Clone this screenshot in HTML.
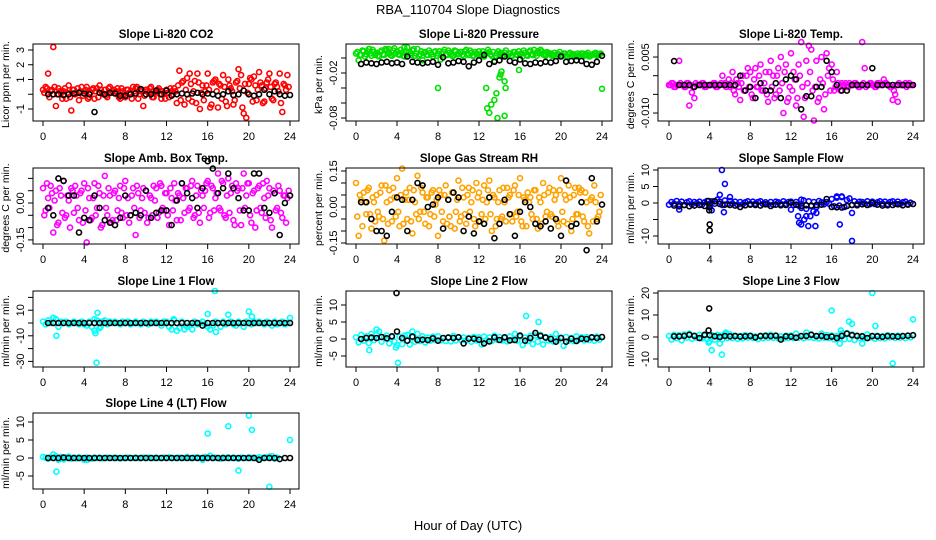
<!DOCTYPE html>
<html><head><meta charset="utf-8">
<style>
html,body{margin:0;padding:0;background:#fff;}
svg{display:block;font-family:"Liberation Sans",sans-serif;}
</style></head>
<body>
<svg id="chart" width="936" height="540" viewBox="0 0 936 540">
<text x="468" y="14" text-anchor="middle" font-size="13">RBA_110704  Slope Diagnostics</text>
<text x="468" y="530" text-anchor="middle" font-size="13">Hour of Day (UTC)</text>
</svg>
<script>
const hC=[0,0.25,0.5,0.75,1,1.25,1.5,1.75,2,2.25,2.5,2.75,3,3.25,3.5,3.75,4,4.25,4.5,4.75,5,5.25,5.5,5.75,6,6.25,6.5,6.75,7,7.25,7.5,7.75,8,8.25,8.5,8.75,9,9.25,9.5,9.75,10,10.25,10.5,10.75,11,11.25,11.5,11.75,12,12.25,12.5,12.75,13,13.25,13.5,13.75,14,14.25,14.5,14.75,15,15.25,15.5,15.75,16,16.25,16.5,16.75,17,17.25,17.5,17.75,18,18.25,18.5,18.75,19,19.25,19.5,19.75,20,20.25,20.5,20.75,21,21.25,21.5,21.75,22,22.25,22.5,22.75,23,23.25,23.5,23.75];
const hB=[0.5,1,1.5,2,2.5,3,3.5,4,4.5,5,5.5,6,6.5,7,7.5,8,8.5,9,9.5,10,10.5,11,11.5,12,12.5,13,13.5,14,14.5,15,15.5,16,16.5,17,17.5,18,18.5,19,19.5,20,20.5,21,21.5,22,22.5,23,23.5,24];
const xTicks=[0,4,8,12,16,20,24];

const p1Color=[0.3,0.5,1.4,0.2,3.2,-0.8,0.4,0.1,0.2,-0.3,0.6,-1.1,0.3,0.1,-0.4,0.5,0.2,0.5,-0.2,0.3,-0.3,0.4,0.6,0.1,0.3,-0.2,0.5,0.2,0.1,0.4,-0.3,0.2,-0.2,0.3,0.1,0.5,0.4,-0.3,0.2,-0.8,0.3,0.1,0.5,-0.2,0.2,0.4,-0.3,0.1,0.3,-0.2,0.2,0.4,-0.6,1.6,0.8,-0.7,1.1,1.4,-0.5,0.9,1.4,-1.0,0.6,0.2,1.4,-0.9,0.8,1.0,-0.9,0.6,1.3,-0.5,1.0,0.4,-0.7,0.8,1.7,1.3,-1.3,-1.6,0.7,1.0,1.2,-0.4,1.5,0.6,-0.5,0.8,1.4,-0.3,0.7,0.5,1.4,-1.2,0.6,1.3];
const p1Color2=[0.1,0.4,-0.2,0.3,0.5,0.0,0.2,-0.3,0.4,0.1,-0.2,0.3,0.0,0.4,0.2,-0.1,0.3,-0.3,0.1,0.4,0.2,-0.2,0.3,0.0,-0.1,0.4,0.1,0.3,0.2,-0.2,0.4,0.0,0.3,0.1,-0.3,0.2,0.5,0.0,0.3,-0.1,0.2,0.4,-0.2,0.1,0.3,0.0,0.2,-0.3,0.1,0.4,0.0,0.2,0.6,-0.4,0.9,0.3,-0.3,0.7,0.2,-0.6,0.8,0.1,-0.4,0.6,0.3,-0.7,0.9,0.2,0.7,-0.3,0.5,-0.8,0.6,0.2,-0.4,0.9,0.4,-0.9,0.7,0.1,1.1,-0.5,0.6,0.3,0.8,-0.6,0.4,1.0,0.5,-0.4,0.8,0.2,-0.6,0.7,0.3,0.5];
const p1Black=[0,0,0,-0.05,0,0.05,0.1,0.05,0,-1.2,0.1,0,0.1,0.05,-0.1,-0.1,0,0.05,0.35,0,0,0.25,0,0.25,-0.1,0,0.05,0,0.05,0.1,0,0.05,0,-0.1,0,0.2,-0.05,0,0.25,0,-0.1,0,0.3,0,0.2,0,-0.1,-0.05];

const p2Color=[0.006,-0.003,0.004,0.009,0.005,0.012,0.003,0.008,0.007,0.002,0.010,0.004,0.011,0.006,0.003,0.013,0.009,0.004,0.007,0.002,0.014,0.006,0.010,0.003,0.012,0.005,-0.003,0.008,0.004,0.007,0.002,0.009,0.006,-0.002,0.008,0.004,0.010,0.005,0.003,0.009,0.006,0.008,0.002,0.011,0.004,0.007,0.003,0.006,0.009,0.005,0.002,0.007,0.008,0.003,-0.004,0.006,0.005,0.002,0.007,0.004,0.006,0.003,0.008,0.004,0.005,0.002,0.007,0.003,0.010,0.004,0.006,0.009,0.011,0.005,0.003,0.007,0.006,0.004,0.002,0.005,0.004,0.006,0.003,0.005,0.003,0.005,0.002,0.004,0.006,0.003,0.005,0.002,0.004,0.006,0.003,0.005];
const p2Color2=[0.008,0.004,0.010,0.002,0.009,0.006,0.011,0.004,0.003,0.008,0.005,0.012,0.007,0.004,0.010,0.006,0.005,0.011,0.003,0.009,0.008,0.004,0.012,0.006,0.003,0.009,0.007,0.004,0.010,0.005,0.008,0.003,0.009,0.006,0.011,0.004,0.007,0.003,0.010,0.005,0.008,0.004,0.009,0.006,0.010,0.003,0.008,0.005,0.004,0.009,0.006,0.011,0.005,0.008,0.003,0.009,0.007,0.004,0.010,0.006,0.003,0.008,0.005,0.009,0.006,0.010,0.004,0.008,0.005,0.011,0.003,0.007,0.009,0.004,0.008,0.006,0.003,0.007,0.005,0.008,0.004,0.006,0.002,0.007,0.005,0.003,0.006,0.004,0.006,0.004,0.007,0.003,0.005,0.007,0.004,0.006];
const p2OutX=[8,12.7,12.8,13,13.2,13.5,13.7,13.8,14,14.1,14.2,14.5,14.6,14.5,15.9,24,3.2,4.7,1.3];
const p2OutY=[-0.04,-0.04,-0.067,-0.073,-0.062,-0.056,-0.047,-0.08,-0.026,-0.022,-0.018,-0.031,-0.04,-0.077,-0.016,-0.041,0.012,0.014,0.012];
const p2Black=[-0.008,-0.006,-0.007,-0.008,-0.006,-0.005,-0.007,-0.006,-0.008,0.002,-0.005,-0.006,-0.007,-0.006,-0.005,-0.009,0.001,-0.007,-0.006,-0.004,-0.005,-0.011,-0.006,-0.003,0.004,-0.008,-0.005,-0.003,0.002,-0.004,-0.006,-0.002,-0.007,-0.008,-0.006,-0.007,-0.005,-0.006,-0.004,0.002,-0.005,-0.004,-0.003,-0.004,-0.008,-0.009,-0.005,0.003];

const p3Color=[-0.0025,-0.002,-0.003,-0.0025,0.004,-0.0025,-0.003,-0.002,-0.008,-0.0045,-0.006,-0.0025,-0.0025,-0.002,-0.003,-0.0025,-0.0025,-0.0025,-0.002,-0.003,-0.0025,0.0,-0.002,-0.0025,-0.003,0.001,-0.005,-0.002,-0.0065,0.0,-0.004,0.002,0.001,-0.006,0.002,-0.003,0.003,-0.004,0.001,-0.007,0.004,0.0,-0.005,0.002,0.005,-0.01,0.003,-0.006,0.006,0.001,-0.008,0.003,0.009,-0.011,0.004,0.008,0.007,-0.012,0.004,-0.006,0.005,-0.009,0.006,0.002,0.003,-0.004,0.001,-0.003,-0.002,-0.0025,-0.003,-0.002,-0.0025,-0.002,-0.0025,-0.003,0.009,0.002,-0.0025,-0.002,-0.0025,-0.003,-0.002,-0.0025,-0.0025,-0.002,-0.0025,-0.003,-0.0065,-0.005,-0.007,-0.0025,-0.0025,-0.002,-0.0025,-0.0025];
const p3Color2=[-0.0025,-0.002,-0.003,-0.0025,-0.002,-0.0025,-0.003,-0.002,-0.0025,-0.003,-0.002,-0.0025,-0.0025,-0.002,-0.003,-0.0025,-0.0025,-0.002,-0.003,-0.0025,-0.002,-0.0025,-0.003,-0.001,-0.002,-0.004,-0.001,-0.003,-0.002,-0.004,0.0,-0.003,-0.005,-0.001,-0.003,0.0,-0.004,-0.002,-0.005,0.001,-0.003,-0.006,0.000,-0.004,-0.002,0.001,-0.007,-0.003,-0.004,-0.001,-0.006,0.0,-0.003,-0.006,-0.002,0.001,-0.004,-0.003,-0.007,-0.001,-0.002,-0.005,0.0,-0.004,-0.001,-0.003,-0.002,-0.004,-0.0025,-0.002,-0.003,-0.0025,-0.0025,-0.002,-0.003,-0.0025,-0.002,-0.003,-0.0025,-0.002,-0.0025,-0.003,-0.002,-0.0025,-0.001,-0.002,-0.0025,-0.003,-0.004,-0.0025,-0.002,-0.0025,-0.0025,-0.003,-0.002,-0.0025];
const p3Black=[0.0039,-0.0025,-0.0025,-0.0025,-0.003,-0.0025,-0.0025,-0.0025,-0.0025,-0.0025,-0.0025,-0.0025,-0.0025,0.0,-0.004,-0.003,-0.006,-0.002,-0.004,-0.004,-0.002,-0.006,-0.001,0.0,-0.001,-0.009,-0.0055,-0.0055,-0.003,-0.003,0.004,0.001,-0.0025,-0.004,-0.004,-0.0025,-0.0025,-0.0025,-0.0025,0.002,-0.0025,-0.0025,-0.0025,-0.0025,-0.0025,-0.0025,-0.0025,-0.0025];

const p4Color=[0.06,-0.03,0.02,0.07,-0.12,0.05,-0.08,0.03,0.09,-0.05,0.01,0.06,-0.04,0.03,-0.07,0.05,0.08,-0.16,0.02,-0.06,0.08,-0.02,0.04,-0.09,0.11,-0.05,0.03,-0.07,0.05,-0.03,0.07,-0.06,0.09,0.02,-0.05,0.06,-0.13,0.04,-0.03,0.06,0.05,-0.06,0.02,0.07,0.06,-0.04,0.07,-0.03,0.04,-0.09,0.02,0.08,-0.07,0.03,0.08,-0.04,0.06,-0.02,0.09,-0.05,0.07,-0.08,0.03,0.05,0.09,-0.04,0.06,0.02,0.12,-0.03,0.08,-0.06,0.10,0.04,-0.07,0.08,0.06,-0.09,0.12,0.03,0.08,-0.08,0.05,-0.03,0.07,-0.04,0.02,0.09,0.06,-0.10,0.04,-0.02,0.05,-0.06,0.03,0.02];
const p4Color2=[-0.05,0.08,-0.02,0.04,0.01,-0.09,0.06,-0.04,-0.06,0.03,-0.10,0.05,0.07,-0.02,0.04,-0.08,-0.03,0.06,-0.07,0.02,-0.05,0.07,-0.10,0.03,-0.02,0.06,-0.08,0.04,-0.07,0.02,-0.04,0.06,-0.05,-0.08,0.03,-0.02,0.07,-0.06,0.02,-0.04,-0.08,0.03,-0.05,0.01,-0.06,0.08,-0.02,0.04,-0.05,0.06,-0.03,0.01,0.04,-0.07,0.02,0.06,-0.03,0.07,-0.06,0.03,-0.04,0.05,-0.02,0.08,-0.06,0.07,-0.03,0.04,-0.02,0.09,-0.05,0.03,-0.04,0.07,-0.09,0.05,-0.03,0.06,-0.02,0.08,-0.05,0.04,-0.10,0.06,-0.02,0.08,-0.06,0.03,-0.07,0.05,-0.03,0.07,-0.04,0.03,-0.08,0.05];
const p4Black=[-0.02,-0.05,0.1,0.09,0.03,0.03,-0.12,-0.06,-0.07,0.03,-0.02,-0.07,-0.08,-0.09,-0.06,0.03,-0.05,-0.04,-0.05,0.05,-0.06,-0.04,-0.03,-0.03,-0.09,0.01,0.08,0.04,0.02,-0.02,0.06,0.17,0.14,0.04,0.06,0.12,0.06,0.02,-0.03,-0.03,0.12,0.12,-0.02,-0.04,0.04,-0.13,0.00,0.03];

const p5Color=[0.1,-0.12,0.03,0.06,-0.03,0.08,-0.09,0.02,0.05,-0.04,0.09,-0.14,0.02,0.07,-0.06,0.04,0.12,-0.08,0.16,0.03,-0.05,0.08,-0.11,0.02,0.13,-0.02,0.06,-0.07,0.04,-0.03,0.07,0.01,-0.12,0.05,-0.06,0.09,0.03,-0.08,0.06,-0.02,0.11,-0.04,0.04,-0.07,0.08,0.02,-0.05,0.1,0.06,-0.03,0.09,0.02,0.11,-0.1,0.04,-0.05,0.07,-0.04,0.02,0.08,0.05,-0.06,0.09,-0.02,0.12,-0.08,0.03,0.06,0.04,-0.05,0.07,-0.09,0.02,0.1,-0.04,0.06,-0.03,0.07,0.05,-0.08,0.12,-0.06,0.03,0.09,-0.1,0.05,-0.03,0.08,0.07,-0.06,0.02,-0.11,0.04,0.09,-0.05,-0.02];
const p5Color2=[-0.04,0.05,-0.08,0.02,0.07,-0.03,0.04,-0.06,-0.02,0.06,-0.05,0.09,-0.07,0.03,0.08,-0.04,-0.02,0.05,-0.07,0.06,0.03,-0.06,0.07,-0.03,-0.05,0.08,-0.02,0.04,-0.08,0.06,-0.04,0.03,0.07,-0.02,0.05,-0.07,-0.04,0.06,-0.09,0.03,-0.06,0.08,-0.03,0.05,-0.02,0.07,-0.08,0.04,-0.06,0.03,-0.05,0.07,-0.03,0.05,-0.08,0.02,-0.05,0.08,-0.06,0.04,-0.03,0.07,-0.04,0.05,-0.06,0.04,-0.08,0.02,-0.03,0.07,-0.05,0.04,-0.07,0.05,-0.02,0.08,-0.04,0.03,-0.06,0.07,-0.02,0.05,-0.07,0.04,-0.05,0.08,-0.03,0.06,-0.04,0.06,-0.08,0.03,-0.06,0.02,-0.04,0.05];
const p5Black=[0.02,0.02,-0.05,-0.1,-0.1,-0.12,-0.02,0.04,0.03,-0.1,0.03,0.1,0.09,0.00,0.01,0.04,-0.09,0.03,0.06,0.04,-0.1,-0.04,-0.11,-0.06,-0.07,0.04,-0.13,-0.07,0.03,-0.03,-0.12,-0.02,0.02,0.00,-0.07,-0.08,-0.06,-0.09,-0.05,-0.12,0.11,-0.08,-0.07,0.02,-0.18,0.12,-0.06,0.01];

const p6Color=[-0.5,0.3,-0.2,0.6,-0.3,0.4,-0.6,0.2,0.5,-0.4,0.3,-0.1,0.4,-0.5,0.2,0.6,-0.3,0.5,-0.2,1.0,0.4,-0.6,0.8,-0.3,0.6,-0.2,0.4,-0.5,0.3,-0.4,0.2,0.5,-0.3,0.4,-0.2,0.3,0.5,-0.3,0.2,-0.4,0.3,-0.5,0.4,0.2,-0.3,0.5,-0.2,0.3,0.4,-0.6,0.3,-0.8,-1.5,0.8,-1.8,0.5,-0.9,0.3,-1.2,0.6,0.2,-0.4,0.3,-0.2,1.2,-1.0,1.6,-0.8,1.8,-1.2,0.9,1.4,-0.6,0.5,-0.3,0.4,0.3,-0.2,0.5,-0.4,0.4,-0.3,0.2,0.5,-0.2,0.4,-0.3,0.3,0.5,-0.2,0.4,-0.3,0.2,0.4,-0.3,0.1];
const p6OutX=[5.2,5.5,5.0,6.0,5.4,4.2,1.0,12.7,12.8,13.0,13.3,13.5,13.7,13.9,14.2,14.4,14.5,16.8,18.0,18.0,16.5,17.0,13.0,12.0];
const p6OutY=[10,5.8,2.5,1.8,-2.8,-2.2,-2,-4,-6,-6.5,-5,-4,-7,-4,-2.5,-7,-3,-6.5,-11.5,-3,2,2,1,-2];
const p6Black=[-0.8,-1.0,-0.6,-1.0,-0.8,-0.6,-0.9,-1.3,0.5,-0.3,-0.5,-0.6,-0.8,-1.2,-0.7,-0.5,-0.6,-0.8,-0.4,-0.9,-0.5,-0.7,-0.6,0.1,-0.5,-0.9,-0.7,-0.8,-0.6,-0.5,1.2,-1.2,-1.3,-1.4,-0.9,-0.6,-0.7,-0.4,-0.6,0.0,-0.5,-0.8,-0.7,-0.6,-0.4,-0.7,-0.5,-0.3];
const p6BlackOutX=[3.9,3.95,4.0,4.0];
const p6BlackOutY=[0.6,-2.2,-6.5,-8.3];

const p7Color=[1,-1,2,0,4,3,-3,1,0,1,-1,0,1,0,-1,1,-1,-2,1,-3,-6,2,-4,1,2,-1,1,0,1,0,-1,1,0,1,-1,0,1,0,-1,1,0,-1,1,0,1,0,-2,1,1,-3,-5,2,-6,-4,1,-5,-3,-2,-5,1,-1,0,1,-1,-3,-5,-2,1,0,-3,1,-1,0,1,-1,-2,1,0,-3,1,0,-1,1,0,1,0,-1,1,0,-2,1,-1,0,1,-1,0];
const p7OutX=[1.3,5.3,5.1,5.2,5.6,16.7,16.0,18.0,20.0,20.3,24.0,12.7,16.8,1.0,5.0];
const p7OutY=[-10,8,-8,-31,-3,25,7,6.5,9,5,4,3,-7,4,3];
const p7Black=[0,0,0,0,0,0,0,0,0,0,0,0,0,0,0,0,0,0,0,0,0,0,0,0,0,0,0,0,0,0,-2,0,0,0,0,0,0,0,0,0,0,0,0,0,0,0,0,0];

const p8Color=[0.5,-1,1.2,-0.5,0.8,-1.2,1.5,-0.3,1.2,2.2,-0.8,0.5,1,-1.3,0.6,-0.8,-1.8,0.7,-1.5,1,1.2,-1.6,0.5,-0.8,1.5,-0.6,0.8,-1,0.4,-0.5,0.7,-0.3,0.8,-0.4,0.3,-0.6,0.5,-0.7,0.9,-0.4,0.6,-0.3,0.4,-0.5,0.3,-0.8,0.6,-0.4,0.5,-1.6,0.7,-0.3,0.4,-0.6,0.9,-0.2,0.6,-0.4,0.3,-0.7,0.8,-0.3,1.5,-0.5,0.7,-1.8,0.4,-0.6,0.9,-1.5,1,-0.8,1.2,-1.6,0.6,-0.4,0.5,-0.7,1.5,-0.3,0.4,-2,0.6,-0.5,0.3,-0.6,0.8,-0.2,0.5,-0.4,0.6,-0.3,0.4,-0.5,0.7,-0.2];
const p8OutX=[1.3,2.0,3.9,4.1,5.5,16.6,17.8];
const p8OutY=[-3.3,2.8,-2.5,-7,2.2,6.8,5];
const p8Black=[0,0.3,0.4,0.3,0.6,0.2,0.8,2.2,0.3,-0.5,0.7,-0.3,-0.2,-0.3,0.2,-0.5,0.3,0.4,0.3,0.5,-1.3,0.1,0.1,-0.2,-1.3,-0.7,0.5,-0.3,0.5,-0.4,-0.3,1,-0.5,0.3,1.8,0.9,0.4,0,-0.8,0.3,-0.8,0.1,-0.6,0.1,0,0.5,0.3,0.6];
const p8BlackOutX=[3.95];
const p8BlackOutY=[13.5];

const p9Color=[0.5,-1.2,1,-0.5,0.8,-1.5,1.2,-0.3,1.5,-0.8,0.6,-0.4,1,-0.6,0.5,-0.9,-2,0.8,-1.2,1,0.6,-1,1.5,-0.4,1.2,-0.5,0.7,-0.8,0.4,-0.6,0.9,-0.3,0.6,-0.4,0.3,-1,0.5,-0.6,0.8,-0.3,1,-0.4,0.5,-0.6,0.3,-0.7,0.6,-0.4,0.7,-0.5,1.5,-0.3,0.4,-0.6,2,-0.2,1.2,-0.4,0.3,-0.7,1.5,-0.3,0.9,-0.5,0.7,-1.2,0.4,-0.6,1.5,-1,1.8,-0.8,1.2,-1.4,0.6,-0.4,0.5,-0.7,1.2,-0.3,0.4,-0.8,0.6,-0.5,0.3,-0.6,0.8,-0.2,0.5,-0.4,0.6,-0.3,0.4,-0.5,0.7,-0.2];
const p9OutX=[3.9,4.2,5.0,5.2,5.6,16.0,16.9,17.7,18.0,20.0,20.3,22.0,24.0,16.8,19.0];
const p9OutY=[-2.5,-6,-3,-8,2,12,3,7,6,20,5,-12,8,-3,-3];
const p9Black=[0.3,0.3,0.5,1,0.5,-0.5,1,0.8,0.3,0,0.5,0.3,0.4,0.2,0.3,0.5,-0.2,0.4,0.5,0.4,0.6,-1.2,0.3,0.2,-0.3,0.4,0.5,1,0.4,0.5,0,0.2,-0.5,0.5,1.5,0.8,0.5,0.3,-0.5,0.4,0.3,0.1,0.4,0.3,0.2,0.4,0.6,0.8];
const p9BlackOutX=[3.95,3.9];
const p9BlackOutY=[13,3];

const p10Color=[0.3,0.1,-0.2,0.2,1,0.5,-0.5,0.3,-0.4,0.2,0.4,-0.2,0.1,-0.1,0.2,0,-0.5,0.1,0,-0.2,0.1,0,0.1,-0.1,0,0.1,0,0,0.1,0,-0.1,0,0,0.1,0,0,0.1,0,0,0.1,0,0.1,0,0,0.1,0,0,0.1,0,0.2,0,0,0,0.1,0,0,0.3,0,0,0.1,0.2,0,-0.5,0.3,0.2,0.6,0,0.1,0,-0.2,0.1,0,0.2,0,0.1,0,-0.2,0.1,0,0,0.2,0,0.1,-0.1,0.2,0,0.1,0.2,0.4,0.5,-0.2,0.1];
const p10OutX=[1.3,16.0,18.0,19.0,20.0,20.3,22.0,24.0,4.3];
const p10OutY=[-3.8,6.8,8.8,-3.5,11.8,7.8,-8,5,-0.5];
const p10Black=[0,0,0,0.1,0,0,0,0,0,0,0,0,0,0,0,0,0,0,0,0,0,0,0,0,0,0,0,0,0,0,0,0,0,0,0,0,0,0,0,0,0,-0.5,0,0,0,-0.3,0,0];

const NS='http://www.w3.org/2000/svg';
const svg=document.getElementById('chart');
function mk(tag,attrs,parent){const e=document.createElementNS(NS,tag);for(const k in attrs)e.setAttribute(k,attrs[k]);(parent||svg).appendChild(e);return e;}

const cols=[{bl:33,br:299,x0:43,x24:290},{bl:346,br:612,x0:356,x24:602},{bl:658,br:924,x0:669,x24:913}];
const rows=[{bt:44,bb:121},{bt:168,bb:244},{bt:291,bb:367},{bt:413,bb:489}];

const panels=[
 {name:'co2',title:'Slope Li-820 CO2',ylab:'Licor ppm per min.',c:0,r:0,y0:94.25,k:14.75,ticks:[-1,0,1,2,3],tl:['-1','','1','2','3'],color:'#ff0000',col:p1Color,col2:p1Color2,ox:[],oy:[],blk:p1Black,box:[],boy:[]},
 {name:'pressure',title:'Slope Li-820 Pressure',ylab:'kPa per min.',c:1,r:0,y0:58,k:750,ticks:[0,-0.02,-0.04,-0.06,-0.08],tl:['','-0.02','','','-0.08'],color:'#00e000',col:p2Color,col2:p2Color2,ox:p2OutX,oy:p2OutY,blk:p2Black,box:[],boy:[]},
 {name:'temp',title:'Slope Li-820 Temp.',ylab:'degrees C per min.',c:2,r:0,y0:75.7,k:3733,ticks:[0.005,0,-0.005,-0.010],tl:['0.005','','','-0.010'],color:'#ff00ff',col:p3Color,col2:p3Color2,ox:[],oy:[],blk:p3Black,box:[],boy:[]},
 {name:'amb-box-temp',title:'Slope Amb. Box Temp.',ylab:'degrees C per min.',c:0,r:1,y0:203,k:246,ticks:[0.1,0.05,0,-0.05,-0.1,-0.15],tl:['','','0.00','','','-0.15'],color:'#ff00ff',col:p4Color,col2:p4Color2,ox:[],oy:[],blk:p4Black,box:[],boy:[]},
 {name:'gas-stream-rh',title:'Slope Gas Stream RH',ylab:'percent per min.',c:1,r:1,y0:207,k:240,ticks:[0.15,0.1,0.05,0,-0.05,-0.1,-0.15],tl:['0.15','','','0.00','','','-0.15'],color:'#ffa200',col:p5Color,col2:p5Color2,ox:[],oy:[],blk:p5Black,box:[],boy:[]},
 {name:'sample-flow',title:'Slope Sample Flow',ylab:'ml/min per min.',c:2,r:1,y0:203,k:3.3,ticks:[10,5,0,-5,-10],tl:['10','5','0','','-10'],color:'#0000ff',col:p6Color,col2:[],ox:p6OutX,oy:p6OutY,blk:p6Black,box:p6BlackOutX,boy:p6BlackOutY},
 {name:'line-1-flow',title:'Slope Line 1 Flow',ylab:'ml/min per min.',c:0,r:2,y0:323,k:1.28,ticks:[20,10,0,-10,-20,-30],tl:['','10','','-10','','-30'],color:'#00ffff',col:p7Color,col2:[],ox:p7OutX,oy:p7OutY,blk:p7Black,box:[],boy:[]},
 {name:'line-2-flow',title:'Slope Line 2 Flow',ylab:'ml/min per min.',c:1,r:2,y0:339,k:3.4,ticks:[10,5,0,-5],tl:['10','5','0','-5'],color:'#00ffff',col:p8Color,col2:[],ox:p8OutX,oy:p8OutY,blk:p8Black,box:p8BlackOutX,boy:p8BlackOutY},
 {name:'line-3-flow',title:'Slope Line 3 Flow',ylab:'ml/min per min.',c:2,r:2,y0:337,k:2.2,ticks:[20,10,0,-10],tl:['20','10','0','-10'],color:'#00ffff',col:p9Color,col2:[],ox:p9OutX,oy:p9OutY,blk:p9Black,box:p9BlackOutX,boy:p9BlackOutY},
 {name:'line-4-lt-flow',title:'Slope Line 4 (LT) Flow',ylab:'ml/min per min.',c:0,r:3,y0:458,k:3.6,ticks:[10,5,0,-5],tl:['10','5','0','-5'],color:'#00ffff',col:p10Color,col2:[],ox:p10OutX,oy:p10OutY,blk:p10Black,box:[],boy:[]}
];

function pt(g,x,y,color,name){
  const c=mk('circle',{cx:x.toFixed(1),cy:y.toFixed(1),r:2.5,fill:'none',stroke:color,'stroke-width':1.6},g);
  
  
}

panels.forEach(p=>{
  const C=cols[p.c],R=rows[p.r];
  const xs=h=>C.x0+(C.x24-C.x0)*h/24;
  const ys=v=>p.y0-v*p.k;
  const g=mk('g',{});
  
  
  const t=mk('text',{x:(C.bl+C.br)/2,y:R.bt-6,'text-anchor':'middle','font-size':11.5,'font-weight':'bold'},g);
  t.textContent=p.title;
  
  
  const cx=C.bl-24,cy=(R.bt+R.bb)/2+2;
  const yl=mk('text',{x:cx,y:cy,'text-anchor':'middle','font-size':10.5,transform:`rotate(-90 ${cx} ${cy})`},g);
  yl.textContent=p.ylab;
  
  
  const n=Math.min(hC.length,p.col.length);
  for(let i=0;i<n;i++){const y=ys(p.col[i]);if(y<R.bt-2||y>R.bb+2)continue;pt(g,xs(hC[i]),y,p.color,'series-point');}
  const n2=Math.min(hC.length,p.col2.length);
  for(let i=0;i<n2;i++){const y=ys(p.col2[i]);if(y<R.bt-2||y>R.bb+2)continue;pt(g,xs(hC[i]+0.125),y,p.color,'series-point');}
  for(let i=0;i<Math.min(p.ox.length,p.oy.length);i++){pt(g,xs(p.ox[i]),ys(p.oy[i]),p.color,'outlier-point');}
  const nb=Math.min(hB.length,p.blk.length);
  for(let i=0;i<nb;i++){pt(g,xs(hB[i]),ys(p.blk[i]),'#000','mean-point');}
  for(let i=0;i<Math.min(p.box.length,p.boy.length);i++){pt(g,xs(p.box[i]),ys(p.boy[i]),'#000','mean-outlier-point');}
  const b=mk('rect',{x:C.bl,y:R.bt,width:C.br-C.bl,height:R.bb-R.bt,fill:'none',stroke:'#000','stroke-width':1},g);
  
  
  const xa=mk('g',{},g);
  
  
  mk('line',{x1:xs(0),x2:xs(24),y1:R.bb,y2:R.bb,stroke:'#000'},xa);
  xTicks.forEach(v=>{
    mk('line',{x1:xs(v),x2:xs(v),y1:R.bb,y2:R.bb+5,stroke:'#000'},xa);
    const tx=mk('text',{x:xs(v),y:R.bb+19,'text-anchor':'middle','font-size':11},xa);
    tx.textContent=String(v);
    
    
  });
  const ya=mk('g',{},g);
  
  
  const tmin=Math.min(...p.ticks),tmax=Math.max(...p.ticks);
  mk('line',{x1:C.bl,x2:C.bl,y1:ys(tmax),y2:ys(tmin),stroke:'#000'},ya);
  p.ticks.forEach((v,i)=>{
    const y=ys(v);
    mk('line',{x1:C.bl-5,x2:C.bl,y1:y,y2:y,stroke:'#000'},ya);
    if(p.tl[i]){
      const lx=C.bl-9;
      const ty=mk('text',{x:lx,y:y,'text-anchor':'middle','font-size':11,transform:`rotate(-90 ${lx} ${y})`},ya);
      ty.textContent=p.tl[i];
      
      
    }
  });
});
</script>
</body></html>
